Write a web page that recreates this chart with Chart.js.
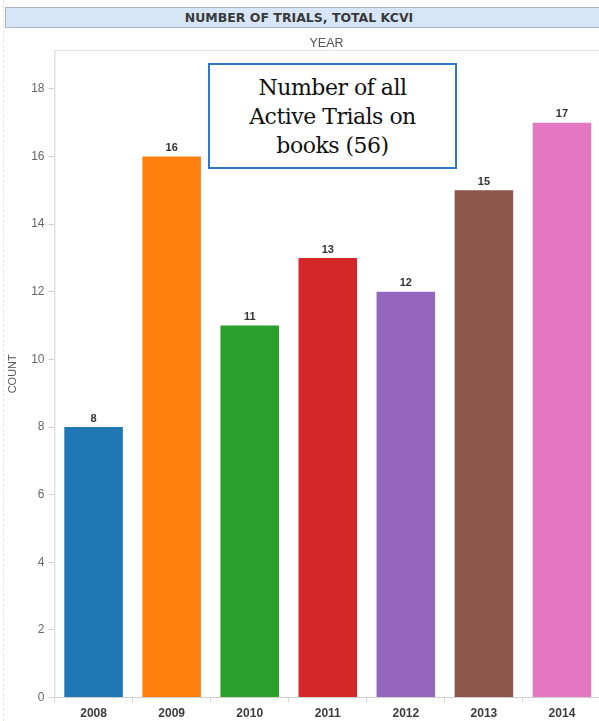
<!DOCTYPE html>
<html>
<head>
<meta charset="utf-8">
<script src="https://cdn.jsdelivr.net/npm/chart.js@4/dist/chart.umd.min.js"></script>
<style>
  html, body { margin: 0; padding: 0; background: #fff; }
  #wrap { position: relative; width: 599px; height: 721px; overflow: hidden; }
  #edge { position: absolute; left: 0; top: 0; width: 4px; height: 721px;
          border-right: 1px dashed #eee4dc; box-sizing: border-box; }
  #titlebar { position: absolute; left: 5px; top: 7px; width: 600px; height: 21px;
              background: #d6e6f8; border: 1px solid #a9b4bf; box-sizing: border-box;
              font: bold 12.5px "DejaVu Sans", sans-serif; color: #3a3a3a;
              text-align: center; line-height: 19px; padding-right: 12px; }
  #year { position: absolute; left: 54px; width: 545px; top: 36px; text-align: center;
          font: 12.5px "Liberation Sans", Arial, sans-serif; color: #555; }
  #note { position: absolute; left: 208px; top: 63px; width: 249px; height: 106px;
          border: 2px solid #2f78c4; box-sizing: border-box; background: #fff;
          font: 22px "DejaVu Serif", "Liberation Serif", serif; color: #111;
          text-align: center; line-height: 29px; padding-top: 8px; letter-spacing: -0.5px; }
  canvas { position: absolute; left: 0; top: 0; }
</style>
</head>
<body>
<div id="wrap">
  <canvas id="chart" width="601" height="725"></canvas>
  <div id="edge"></div>
  <div id="titlebar">NUMBER OF TRIALS, TOTAL KCVI</div>
  <div id="year">YEAR</div>
  <div id="note">Number of all<br>Active Trials on<br>books (56)</div>
</div>
<script>
// Trials per year
const years = ['2008', '2009', '2010', '2011', '2012', '2013', '2014'];
const counts = [8, 16, 11, 13, 12, 15, 17];
const barColors = ['#1f77b4', '#ff7f0e', '#2ca02c', '#d62728', '#9467bd', '#8c564b', '#e377c2'];
const yTicks = [0, 2, 4, 6, 8, 10, 12, 14, 16, 18];

// Value labels above each bar
const valueLabels = {
  id: 'valueLabels',
  afterDatasetsDraw(chart) {
    const ctx = chart.ctx;
    const meta = chart.getDatasetMeta(0);
    ctx.save();
    ctx.font = 'bold 11px "Liberation Sans", Arial, sans-serif';
    ctx.fillStyle = '#333';
    ctx.textAlign = 'center';
    ctx.textBaseline = 'bottom';
    meta.data.forEach((bar, i) => {
      ctx.fillText(String(counts[i]), bar.x, bar.y - 3);
    });
    ctx.restore();
  }
};

// Light frame round the plot area
const plotFrame = {
  id: 'plotFrame',
  beforeDraw(chart) {
    const a = chart.chartArea;
    const ctx = chart.ctx;
    ctx.save();
    ctx.strokeStyle = '#e2e2e2';
    ctx.lineWidth = 1;
    ctx.beginPath();
    ctx.moveTo(a.left + 0.5, a.bottom);
    ctx.lineTo(a.left + 0.5, 50.5);
    ctx.lineTo(a.right + 5, 50.5);
    ctx.stroke();
    ctx.restore();
  }
};

new Chart(document.getElementById('chart'), {
  type: 'bar',
  data: {
    labels: years,
    datasets: [{
      data: counts,
      backgroundColor: barColors,
      borderWidth: 0,
      barPercentage: 0.75,
      categoryPercentage: 1.0
    }]
  },
  options: {
    responsive: false,
    animation: false,
    layout: { padding: { top: 50, right: 0, left: 6, bottom: 0 } },
    plugins: { legend: { display: false }, tooltip: { enabled: false } },
    scales: {
      x: {
        grid: { display: true, drawOnChartArea: false, offset: true, color: '#d8d8d8', tickLength: 5 },
        border: { display: true, color: '#d0d0d0' },
        ticks: {
          color: '#3c3c3c', padding: 4,
          font: { family: '"Liberation Sans", Arial, sans-serif', size: 12, weight: 'bold' }
        }
      },
      y: {
        min: 0,
        max: 19.15,
        afterBuildTicks(scale) { scale.ticks = yTicks.map(v => ({ value: v })); },
        grid: { display: true, drawOnChartArea: false, color: '#cfcfcf', tickLength: 6 },
        border: { display: true, color: '#e2e2e2' },
        title: {
          display: true, text: 'COUNT', color: '#555', padding: { top: 0, bottom: 8 },
          font: { family: '"Liberation Sans", Arial, sans-serif', size: 11 }
        },
        ticks: {
          color: '#666', padding: 4,
          font: { family: '"Liberation Sans", Arial, sans-serif', size: 12 }
        }
      }
    }
  },
  plugins: [valueLabels, plotFrame]
});
</script>
</body>
</html>
